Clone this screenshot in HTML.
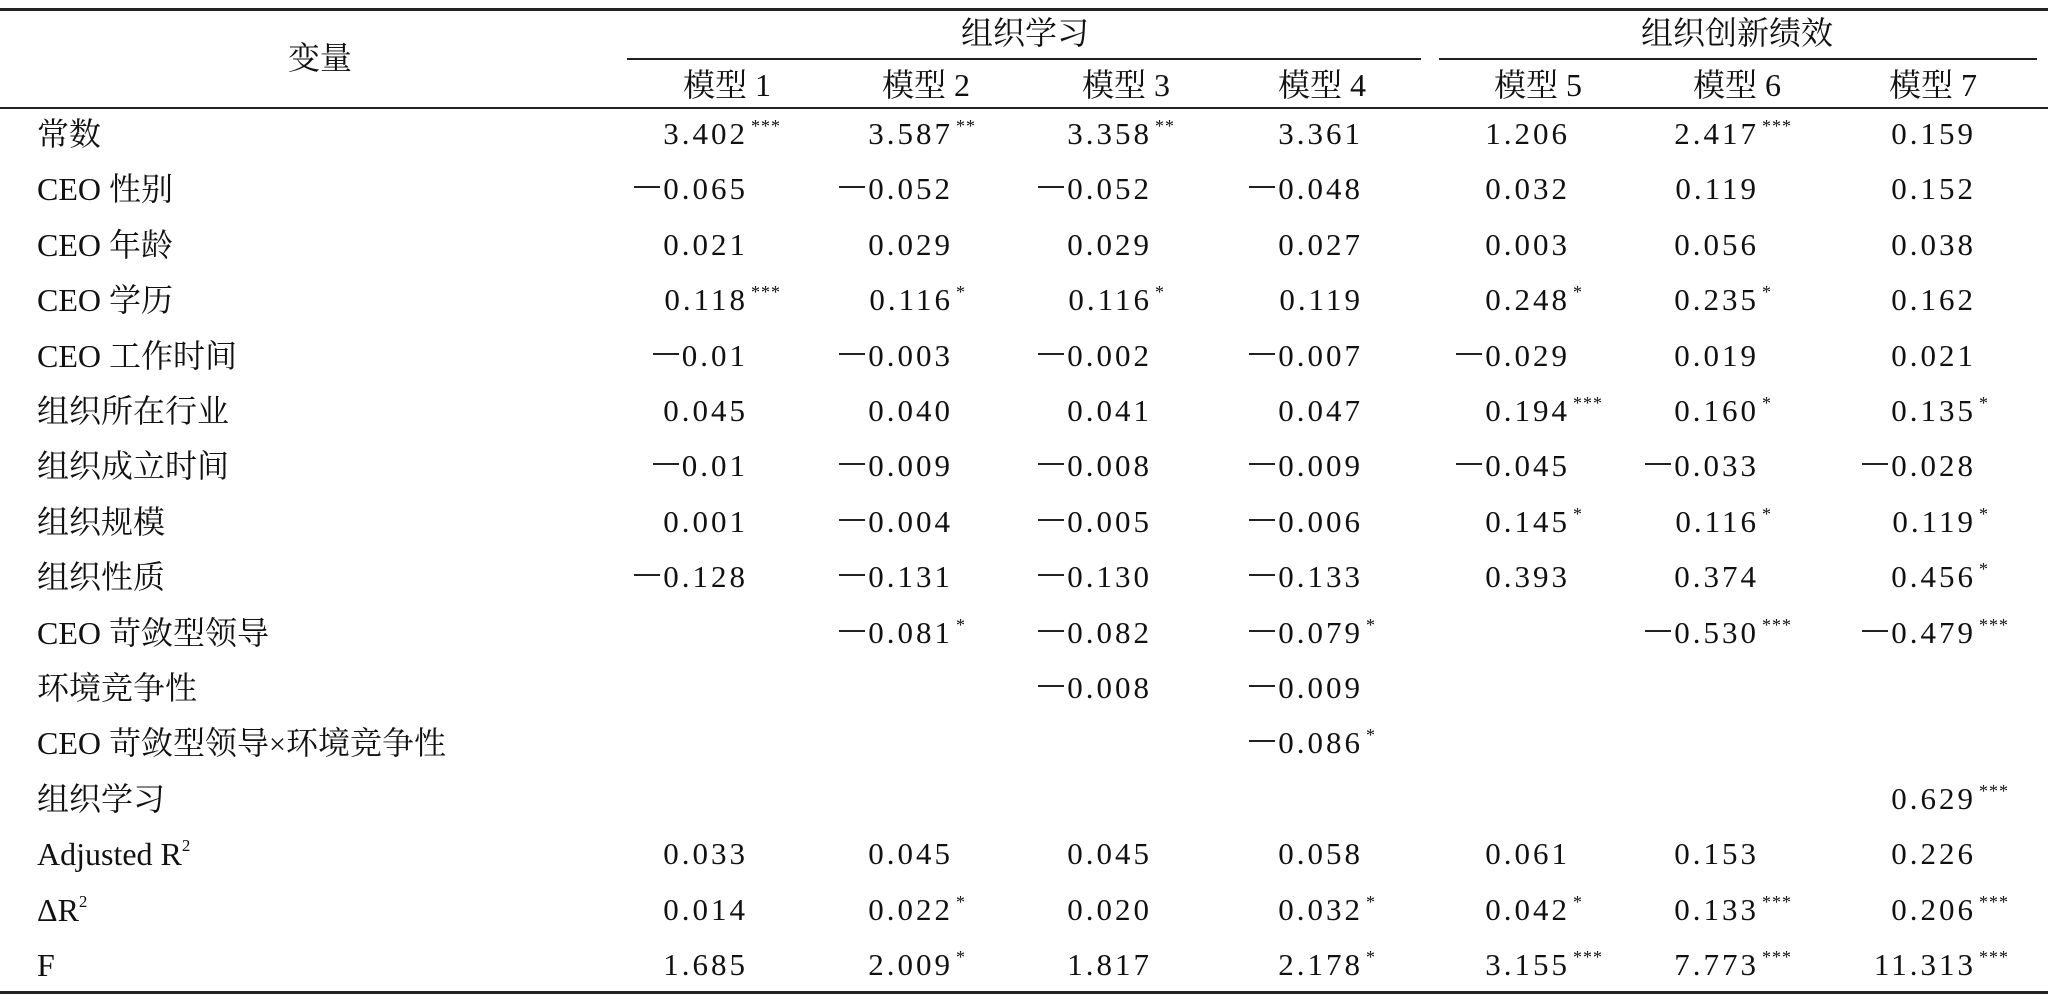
<!DOCTYPE html>
<html><head><meta charset="utf-8"><style>
body{margin:0;background:#fff;}
#c{position:relative;width:2048px;height:1008px;overflow:hidden;font-family:"Liberation Serif","Noto Serif CJK SC",serif;color:#111;}
.l{position:absolute;background:#222;}
.t{position:absolute;font-size:32px;line-height:40px;white-space:nowrap;}
.n{position:absolute;font-size:31px;line-height:40px;letter-spacing:3px;white-space:nowrap;text-align:right;}
.n sup{position:absolute;left:100%;top:-8px;font-size:18px;letter-spacing:1px;margin-left:3px;}
.m{display:inline-block;width:26px;height:2px;background:#222;vertical-align:11px;margin-right:3px;}
.c{transform:translateX(-50%);}
</style></head><body><div id="c">
<div class="l" style="left:0;top:8px;width:2048px;height:3px"></div>
<div class="l" style="left:627px;top:58px;width:794px;height:2px"></div>
<div class="l" style="left:1439px;top:58px;width:598px;height:2px"></div>
<div class="l" style="left:0;top:107px;width:2048px;height:2px"></div>
<div class="l" style="left:0;top:991px;width:2048px;height:3px"></div>
<div class="t c" style="left:320px;top:38px">变量</div>
<div class="t c" style="left:1025px;top:13px">组织学习</div>
<div class="t c" style="left:1737px;top:13px">组织创新绩效</div>
<div class="t c" style="left:727px;top:65px">模型 1</div>
<div class="t c" style="left:926px;top:65px">模型 2</div>
<div class="t c" style="left:1126px;top:65px">模型 3</div>
<div class="t c" style="left:1322px;top:65px">模型 4</div>
<div class="t c" style="left:1538px;top:65px">模型 5</div>
<div class="t c" style="left:1737px;top:65px">模型 6</div>
<div class="t c" style="left:1933px;top:65px">模型 7</div>
<div id="rows"></div>
</div>
<script>
var R=[
["常数",["3.402|***","3.587|**","3.358|**","3.361","1.206","2.417|***","0.159"]],
["CEO 性别",["−0.065","−0.052","−0.052","−0.048","0.032","0.119","0.152"]],
["CEO 年龄",["0.021","0.029","0.029","0.027","0.003","0.056","0.038"]],
["CEO 学历",["0.118|***","0.116|*","0.116|*","0.119","0.248|*","0.235|*","0.162"]],
["CEO 工作时间",["−0.01","−0.003","−0.002","−0.007","−0.029","0.019","0.021"]],
["组织所在行业",["0.045","0.040","0.041","0.047","0.194|***","0.160|*","0.135|*"]],
["组织成立时间",["−0.01","−0.009","−0.008","−0.009","−0.045","−0.033","−0.028"]],
["组织规模",["0.001","−0.004","−0.005","−0.006","0.145|*","0.116|*","0.119|*"]],
["组织性质",["−0.128","−0.131","−0.130","−0.133","0.393","0.374","0.456|*"]],
["CEO 苛敛型领导",["","−0.081|*","−0.082","−0.079|*","","−0.530|***","−0.479|***"]],
["环境竞争性",["","","−0.008","−0.009","","",""]],
["CEO 苛敛型领导<span style='font-size:30px'>×</span>环境竞争性",["","","","−0.086|*","","",""]],
["组织学习",["","","","","","","0.629|***"]],
["Adjusted R<sup style='font-size:17px;vertical-align:14px;line-height:0'>2</sup>",["0.033","0.045","0.045","0.058","0.061","0.153","0.226"]],
["ΔR<sup style='font-size:17px;vertical-align:14px;line-height:0'>2</sup>",["0.014","0.022|*","0.020","0.032|*","0.042|*","0.133|***","0.206|***"]],
["F",["1.685","2.009|*","1.817","2.178|*","3.155|***","7.773|***","11.313|***"]]
];
var X=[748,953,1152,1363,1570,1759,1976];
var h="";
R.forEach(function(r,i){
 var y=134+i*55.4-20;
 h+='<div class="t" style="left:37px;top:'+y+'px">'+r[0]+'</div>';
 r[1].forEach(function(v,j){
  if(!v)return;
  var p=v.split("|");
  var s=p[0].replace("−","<span class=\"m\"></span>");
  h+='<div class="n" style="right:'+(2048-X[j])+'px;top:'+y+'px">'+s+(p[1]?'<sup>'+p[1]+'</sup>':'')+'</div>';
 });
});
document.getElementById("rows").innerHTML=h;
</script>
</body></html>
